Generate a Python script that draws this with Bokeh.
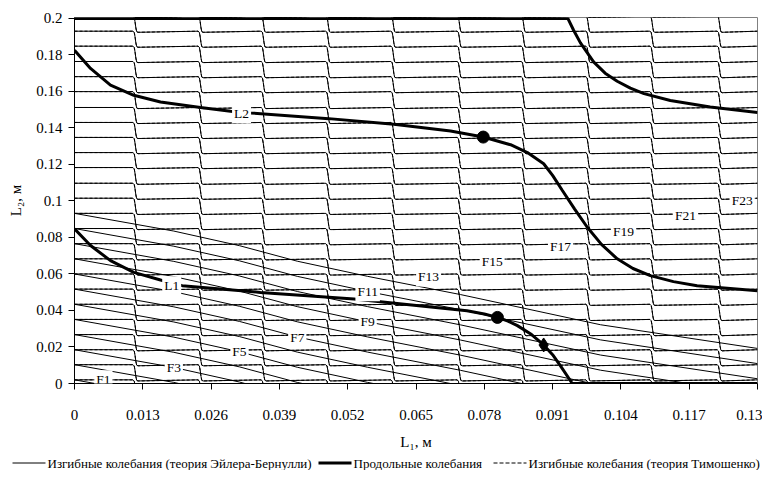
import numpy as np
from bokeh.plotting import figure
from bokeh.layouts import column
from bokeh.models import Range1d, FixedTicker, Label
from bokeh.core.properties import value
from bokeh.embed import file_html
from bokeh.resources import INLINE

# ---------------- data ----------------
x_ticks = [0, 0.013, 0.026, 0.039, 0.052, 0.065, 0.078, 0.091, 0.104, 0.117, 0.13]
x_tick_labels = ["0", "0.013", "0.026", "0.039", "0.052", "0.065", "0.078",
                 "0.091", "0.104", "0.117", "0.13"]
y_ticks = [0, 0.02, 0.04, 0.06, 0.08, 0.1, 0.12, 0.14, 0.16, 0.18, 0.2]
y_tick_labels = ["0", "0.02", "0.04", "0.06", "0.08", "0.1", "0.12", "0.14",
                 "0.16", "0.18", "0.2"]

# levels (at L1 = 0) of the flexural frequency isolines F1..F24
levels = [0.0020, 0.0103, 0.0185, 0.0268, 0.0351, 0.0434, 0.0517, 0.0600,
          0.0683, 0.0766, 0.0849, 0.0932, 0.1015, 0.1097, 0.1183, 0.1265,
          0.1348, 0.1430, 0.1512, 0.1599, 0.1681, 0.1764, 0.1848, 0.1930]
# L1 positions where each stepped isoline drops to the next level
step_x = [0.0116, 0.0240, 0.0360, 0.0483, 0.0607, 0.0733, 0.0855, 0.0978,
          0.1100, 0.1228]
# smooth isolines (lower family): drop below their starting level vs L1
smooth_x = [0, 0.0189, 0.0314, 0.0424, 0.0558, 0.0735, 0.1001, 0.13]
smooth_drop = [0, 0.0097, 0.0177, 0.0262, 0.0345, 0.0445, 0.0610, 0.0740]
n_smooth = 12

# longitudinal vibration curves (thick)
L2_x = [0, 0.00305, 0.00685, 0.01129, 0.01637, 0.02398, 0.02969, 0.0335,
        0.0484, 0.06078, 0.07157, 0.0778, 0.0830, 0.0862, 0.0893, 0.0910,
        0.0928, 0.0952, 0.0976, 0.1003, 0.1033, 0.1063, 0.1096, 0.1140,
        0.1185, 0.13]
L2_y = [0.1825, 0.1726, 0.1634, 0.1579, 0.1542, 0.1512, 0.1491, 0.1482,
        0.1451, 0.1420, 0.1383, 0.1350, 0.1308, 0.1265, 0.1204, 0.1140,
        0.1060, 0.0955, 0.0856, 0.0762, 0.0683, 0.0630, 0.0591, 0.0558,
        0.0536, 0.0508]
L3_x = [0, 0.0939, 0.0950, 0.0963, 0.0988, 0.1010, 0.1033, 0.1058, 0.1084,
        0.1134, 0.1210, 0.13]
L3_y = [0.2, 0.2, 0.1935, 0.1866, 0.1762, 0.1700, 0.1656, 0.1618, 0.1588,
        0.1550, 0.1515, 0.1484]
L1_x = [0, 0.00305, 0.00685, 0.01129, 0.01637, 0.0205, 0.0354, 0.0532,
        0.0582, 0.0747, 0.0780, 0.0805, 0.0825, 0.0843, 0.0870, 0.0893,
        0.0910, 0.0925, 0.0944, 0.0947, 0.13]
L1_y = [0.0847, 0.0756, 0.0673, 0.0609, 0.0567, 0.0536, 0.0499, 0.0463,
        0.0448, 0.0399, 0.0381, 0.0362, 0.0342, 0.0317, 0.0268, 0.0211,
        0.0158, 0.0097, 0.0015, 0.0, 0.0]

circle_x = [0.0778, 0.0805]
circle_y = [0.1350, 0.0362]
diamond_x = [0.0893]
diamond_y = [0.0211]

f_labels = ["F1", "F3", "F5", "F7", "F9", "F11", "F13", "F15", "F17", "F19",
            "F21", "F23"]
f_label_x = [0.0055, 0.0189, 0.0314, 0.0424, 0.0558, 0.0558, 0.0674, 0.0795,
             0.0925, 0.1045, 0.1163, 0.1271]
f_label_y = [0.0020, 0.0088, 0.0174, 0.0252, 0.0339, 0.0503, 0.0584, 0.0667,
             0.0753, 0.0835, 0.0923, 0.1000]
l_labels = ["L1", "L2"]
l_label_x = [0.0185, 0.0318]
l_label_y = [0.0536, 0.1478]

legend_labels = ["Изгибные колебания (теория Эйлера-Бернулли)",
                 "Продольные колебания",
                 "Изгибные колебания (теория Тимошенко)"]

# ---------------- geometry of the stepped isolines ----------------
X0, X1 = x_ticks[0], x_ticks[-1]
PX = (X1 - X0) / 683.0            # data units per screen pixel (x)
step_dx = np.array([-2.5, -1.2, -0.4, 0.4, 1.2, 2.5]) * PX
step_fr = [0.0, 0.08, 0.35, 0.72, 0.96, 1.0]
hook = 0.0006

below = 2 * levels[0] - levels[1]
above = 2 * levels[-1] - levels[-2]


def lev(m):
    if m < 0:
        return below
    if m >= len(levels):
        return above
    return levels[m]


nseg = len(step_x) + 1
st_xs, st_ys = [], []
for c in range(len(levels) + len(step_x)):
    xs, ys = [], []
    for j in range(nseg):
        y = lev(c - j)
        xa = X0 if j == 0 else step_x[j - 1] + step_dx[-1]
        xb = X1 if j == nseg - 1 else step_x[j] + step_dx[0]
        ya = y if j == 0 else y - hook
        xs += [xa, xb]
        ys += [ya, y]
        if j < nseg - 1:
            yn = lev(c - j - 1)
            for dx, f in zip(step_dx[1:-1], step_fr[1:-1]):
                xs.append(step_x[j] + dx)
                ys.append(y - f * (y - yn + hook))
    st_xs.append(xs)
    st_ys.append(ys)

sm_xs = [list(smooth_x) for i in range(n_smooth)]
sm_ys = [[levels[i] - d for d in smooth_drop] for i in range(n_smooth)]

# ---------------- main figure ----------------
p = figure(width=762, height=455, x_range=Range1d(X0, X1),
           y_range=Range1d(0, 0.2005), output_backend="svg",
           toolbar_location=None, min_border_left=74, min_border_right=5,
           min_border_top=17, min_border_bottom=72, frame_align=False)
p.xgrid.visible = False
p.ygrid.visible = False
p.outline_line_color = "#808080"
p.background_fill_color = "white"
p.border_fill_color = "white"

p.xaxis.ticker = FixedTicker(ticks=x_ticks, minor_ticks=[])
p.yaxis.ticker = FixedTicker(ticks=y_ticks, minor_ticks=[])
p.xaxis.major_label_overrides = {t: s for t, s in zip(x_ticks, x_tick_labels)}
p.yaxis.major_label_overrides = {t: s for t, s in zip(y_ticks, y_tick_labels)}
p.xaxis.axis_label = "L\u2081, м"
p.yaxis.axis_label = "L\u2082, м"
for ax in (p.xaxis, p.yaxis):
    ax.major_tick_in = 0
    ax.major_tick_out = 6
    ax.minor_tick_in = 0
    ax.minor_tick_out = 0
    ax.axis_line_color = "black"
    ax.major_tick_line_color = "black"
    ax.major_label_text_font = "Liberation Serif"
    ax.major_label_text_font_size = "15px"
    ax.major_label_text_color = "black"
    ax.axis_label_text_font = "Liberation Serif"
    ax.axis_label_text_font_size = "15px"
    ax.axis_label_text_font_style = "normal"
    ax.axis_label_text_color = "black"
p.xaxis.major_label_standoff = 20
p.xaxis.axis_label_standoff = 11
p.yaxis.major_label_standoff = 6
p.yaxis.axis_label_standoff = 9

# Timoshenko isolines practically coincide with the Euler-Bernoulli ones
p.multi_line(st_xs, st_ys, line_color="black", line_width=1, line_dash="3 2")
p.multi_line(st_xs, st_ys, line_color="black", line_width=1)
p.multi_line(sm_xs, sm_ys, line_color="black", line_width=1)

p.line(L2_x, L2_y, line_color="black", line_width=3)
p.line(L3_x, L3_y, line_color="black", line_width=3)
p.line(L1_x, L1_y, line_color="black", line_width=3)

p.scatter(circle_x, circle_y, marker="circle", size=12, color="black")
p.scatter(diamond_x, diamond_y, marker="diamond", size=14, color="black")

for t, x, y in zip(f_labels + l_labels, f_label_x + l_label_x,
                   f_label_y + l_label_y):
    p.add_layout(Label(x=x, y=y, text=t, text_font="Liberation Serif",
                       text_font_size="13.5px", text_align="center",
                       text_baseline="middle", text_color="black",
                       background_fill_color="white", padding=2))

# ---------------- legend strip (screen-pixel layout) ----------------
lg = figure(width=762, height=15, x_range=Range1d(0, 762),
            y_range=Range1d(0, 1), output_backend="svg",
            toolbar_location=None, x_axis_type=None, y_axis_type=None,
            min_border_left=0, min_border_right=0, min_border_top=0,
            min_border_bottom=0, frame_align=False)
lg.xgrid.visible = False
lg.ygrid.visible = False
lg.outline_line_color = None
lg.background_fill_color = "white"
lg.border_fill_color = "white"

key_x0 = [12, 318, 493]
key_len = 33
key_width = [1, 3, 1]
key_dash = ["solid", "solid", "4 2"]
for x0, w, d in zip(key_x0, key_width, key_dash):
    lg.line([x0, x0 + key_len], [0.5, 0.5], line_color="black",
            line_width=w, line_dash=d)
lg.text(x=[x0 + key_len + 2 for x0 in key_x0], y=[0.5, 0.5, 0.5],
        text=legend_labels, text_font=value("Liberation Serif"),
        text_font_size=value("13px"), text_align="left",
        text_baseline="middle", text_color="black")

layout = column(p, lg, spacing=0)
open("out.html", "w").write(file_html(layout, INLINE))
